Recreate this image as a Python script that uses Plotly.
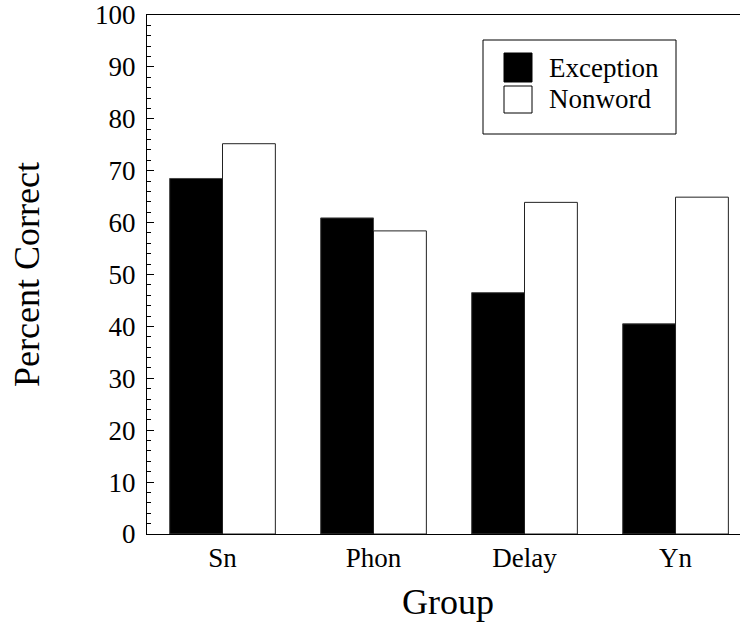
import plotly.graph_objects as go

groups = ["Sn", "Phon", "Delay", "Yn"]
series_names = ["Exception", "Nonword"]
exception_vals = [68.5, 60.9, 46.5, 40.5]
nonword_vals = [75.2, 58.4, 63.9, 64.9]
y_ticks = [0, 10, 20, 30, 40, 50, 60, 70, 80, 90, 100]

FONT = "Liberation Serif, Times New Roman, serif"

fig = go.Figure()
fig.add_trace(go.Bar(x=groups, y=exception_vals, name=series_names[0],
                     marker=dict(color="black", line=dict(color="#444", width=1))))
fig.add_trace(go.Bar(x=groups, y=nonword_vals, name=series_names[1],
                     marker=dict(color="white", line=dict(color="#222", width=1))))

# body margin is reset to 0 in the page (post_script), so the figure fills the window
W, H = 740, 623
L, R, T, B = 147, 0, 15, 89
pw = W - L - R
ph = H - T - B

def px(x):
    return (x - L) / pw

def py(y):
    return (H - B - y) / ph

fig.update_layout(
    width=W, height=H,
    margin=dict(l=L, r=R, t=T, b=B, autoexpand=False),
    paper_bgcolor="white", plot_bgcolor="white",
    barmode="group", bargap=0.3, bargroupgap=0,
    showlegend=False,
    font=dict(family=FONT, color="black", size=27),
)
fig.update_xaxes(
    type="category", range=[-0.5, 3.427], automargin=False,
    showline=True, linecolor="black", linewidth=1, mirror=True,
    ticks="", showgrid=False, zeroline=False,
    tickfont=dict(family=FONT, size=27, color="black"),
)
fig.update_yaxes(
    range=[0, 100], tickvals=y_ticks, ticktext=[str(v) for v in y_ticks],
    automargin=False, ticklabeloverflow="allow",
    showline=True, linecolor="black", linewidth=1, mirror=False,
    ticks="inside", ticklen=7, tickcolor="black", tickwidth=1,
    minor=dict(dtick=2, ticks="inside", ticklen=4, tickcolor="black", tickwidth=1, showgrid=False),
    showgrid=False, zeroline=False,
    tickfont=dict(family=FONT, size=27, color="black"),
    ticklabelstandoff=5,
)

# axis titles
fig.add_annotation(text="Percent Correct", xref="paper", yref="paper",
                   x=px(27), y=py(275), textangle=-90, showarrow=False,
                   xanchor="center", yanchor="middle",
                   font=dict(family=FONT, size=36, color="black"))
fig.add_annotation(text="Group", xref="paper", yref="paper",
                   x=px(448), y=py(602), showarrow=False,
                   xanchor="center", yanchor="middle",
                   font=dict(family=FONT, size=36, color="black"))

# custom legend
fig.add_shape(type="rect", xref="paper", yref="paper",
              x0=px(483), x1=px(676), y0=py(134), y1=py(40),
              line=dict(color="black", width=1), fillcolor="white", layer="above")
fig.add_shape(type="rect", xref="paper", yref="paper",
              x0=px(504), x1=px(532), y0=py(82), y1=py(53),
              line=dict(color="black", width=1), fillcolor="black", layer="above")
fig.add_shape(type="rect", xref="paper", yref="paper",
              x0=px(504), x1=px(532), y0=py(113), y1=py(86),
              line=dict(color="black", width=1), fillcolor="white", layer="above")
fig.add_annotation(text=series_names[0], xref="paper", yref="paper",
                   x=px(547), y=py(68), showarrow=False, xanchor="left", yanchor="middle",
                   font=dict(family=FONT, size=27, color="black"))
fig.add_annotation(text=series_names[1], xref="paper", yref="paper",
                   x=px(547), y=py(99), showarrow=False, xanchor="left", yanchor="middle",
                   font=dict(family=FONT, size=27, color="black"))

fig.write_html("out.html", config={"displayModeBar": False},
               post_script="document.body.style.margin='0';document.body.style.overflow='hidden';")
